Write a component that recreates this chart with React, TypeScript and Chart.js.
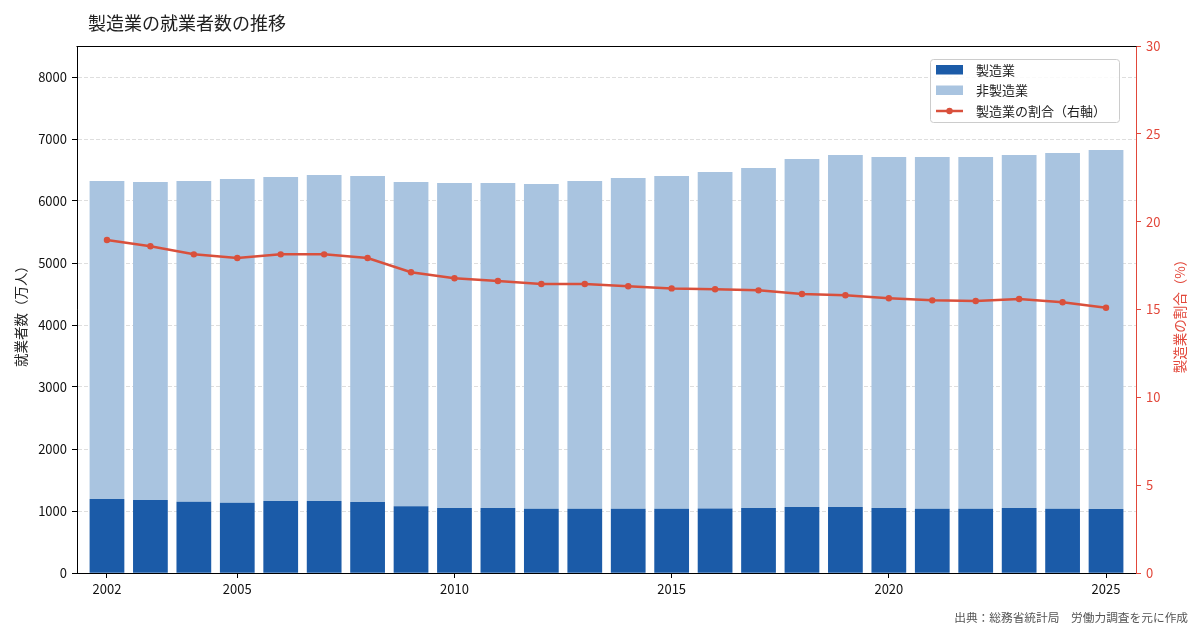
import React, { useEffect, useRef } from "react";
import { Chart, registerables } from "chart.js";

Chart.register(...registerables);

const years = [2002, 2003, 2004, 2005, 2006, 2007, 2008, 2009, 2010, 2011, 2012, 2013, 2014, 2015, 2016, 2017, 2018, 2019, 2020, 2021, 2022, 2023, 2024, 2025];
const manufacturing = [1194, 1178, 1148, 1132, 1161, 1163, 1145, 1078, 1050, 1047, 1035, 1038, 1038, 1036, 1040, 1050, 1063, 1064, 1047, 1035, 1035, 1048, 1035, 1032];
const nonManufacturing = [5129, 5130, 5175, 5223, 5226, 5256, 5258, 5228, 5240, 5243, 5239, 5285, 5333, 5367, 5428, 5482, 5614, 5678, 5663, 5675, 5675, 5694, 5739, 5791];
const shareRatio = [18.96, 18.6, 18.14, 17.93, 18.14, 18.14, 17.93, 17.12, 16.78, 16.62, 16.45, 16.45, 16.32, 16.2, 16.15, 16.09, 15.88, 15.81, 15.64, 15.52, 15.48, 15.6, 15.41, 15.1];
const xTickYears = [2002, 2005, 2010, 2015, 2020, 2025];
const leftTicks = [0, 1000, 2000, 3000, 4000, 5000, 6000, 7000, 8000];
const rightTicks = [0, 5, 10, 15, 20, 25, 30];

const TITLE = "製造業の就業者数の推移";
const LEFT_TITLE = "就業者数（万人）";
const RIGHT_TITLE = "製造業の割合（%）";
const SOURCE = "出典：総務省統計局　労働力調査を元に作成";
const LABEL_MFG = "製造業";
const LABEL_NON = "非製造業";
const LABEL_RATIO = "製造業の割合（右軸）";

const FONT = "'Noto Sans CJK JP', 'Noto Sans', sans-serif";
const C_DARK = "#1b5ba8";
const C_LIGHT = "#a9c4e0";
const C_RED = "#d9503c";
const C_AXIS_RED = "#e2473a";

export default function App() {
  const ref = useRef<HTMLCanvasElement | null>(null);

  useEffect(() => {
    document.body.style.margin = "0";
    const canvas = ref.current;
    if (!canvas) return;

    const overlay = {
      id: "overlay",
      afterDraw(chart: any) {
        const ctx = chart.ctx as CanvasRenderingContext2D;
        const a = chart.chartArea;
        ctx.save();
        // top spine
        ctx.fillStyle = "#000";
        ctx.fillRect(a.left - 0.5, Math.round(a.top), a.right - a.left + 1, 1);

        // title
        ctx.fillStyle = "#222";
        ctx.font = `18px ${FONT}`;
        ctx.textAlign = "left";
        ctx.textBaseline = "middle";
        ctx.fillText(TITLE, 88, 23);

        // left axis title
        ctx.save();
        ctx.translate(21, 313);
        ctx.rotate(-Math.PI / 2);
        ctx.textAlign = "center";
        ctx.font = `13.5px ${FONT}`;
        ctx.fillStyle = "#222";
        ctx.fillText(LEFT_TITLE, 0, 0);
        ctx.restore();

        // right axis title
        ctx.save();
        ctx.translate(1180, 313);
        ctx.rotate(-Math.PI / 2);
        ctx.textAlign = "center";
        ctx.font = `13.5px ${FONT}`;
        ctx.fillStyle = C_AXIS_RED;
        ctx.fillText(RIGHT_TITLE, 0, 0);
        ctx.restore();

        // legend
        const lx = 930.5, ly = 59.5, lw = 189, lh = 63;
        ctx.beginPath();
        ctx.roundRect(lx, ly, lw, lh, 3);
        ctx.fillStyle = "rgba(255,255,255,0.85)";
        ctx.fill();
        ctx.strokeStyle = "#cccccc";
        ctx.lineWidth = 1;
        ctx.stroke();

        ctx.fillStyle = C_DARK;
        ctx.fillRect(936, 65, 27, 9.5);
        ctx.fillStyle = C_LIGHT;
        ctx.fillRect(936, 85.5, 27, 9.5);
        ctx.strokeStyle = C_RED;
        ctx.lineWidth = 2.5;
        ctx.beginPath();
        ctx.moveTo(936, 111);
        ctx.lineTo(963, 111);
        ctx.stroke();
        ctx.fillStyle = C_RED;
        ctx.beginPath();
        ctx.arc(949.5, 111, 3.2, 0, Math.PI * 2);
        ctx.fill();

        ctx.fillStyle = "#222";
        ctx.font = `13px ${FONT}`;
        ctx.textAlign = "left";
        ctx.textBaseline = "middle";
        ctx.fillText(LABEL_MFG, 976, 70);
        ctx.fillText(LABEL_NON, 976, 90.5);
        ctx.fillText(LABEL_RATIO, 976, 111);

        // source
        ctx.fillStyle = "#555";
        ctx.font = `11.7px ${FONT}`;
        ctx.textAlign = "right";
        ctx.fillText(SOURCE, 1188, 618);
        ctx.restore();
      },
    };

    const chart = new Chart(canvas, {
      type: "bar",
      data: {
        datasets: [
          {
            type: "line",
            label: LABEL_RATIO,
            data: years.map((y, i) => ({ x: y, y: shareRatio[i] })),
            yAxisID: "y1",
            borderColor: C_RED,
            backgroundColor: C_RED,
            borderWidth: 2.5,
            pointRadius: 3.2,
            pointBackgroundColor: C_RED,
            pointBorderWidth: 0,
            order: 0,
          } as any,
          {
            label: LABEL_MFG,
            data: years.map((y, i) => ({ x: y, y: manufacturing[i] })),
            backgroundColor: C_DARK,
            yAxisID: "y",
            stack: "s",
            order: 1,
            categoryPercentage: 0.8,
            barPercentage: 1,
          },
          {
            label: LABEL_NON,
            data: years.map((y, i) => ({ x: y, y: nonManufacturing[i] })),
            backgroundColor: C_LIGHT,
            yAxisID: "y",
            stack: "s",
            order: 1,
            categoryPercentage: 0.8,
            barPercentage: 1,
          },
        ],
      },
      options: {
        responsive: false,
        animation: false,
        devicePixelRatio: 1,
        layout: { padding: { top: 46, left: 0, right: 0, bottom: 0 } },
        plugins: {
          legend: { display: false },
          title: { display: false },
          tooltip: { enabled: false },
        },
        scales: {
          x: {
            type: "linear",
            min: 2001.31,
            max: 2025.69,
            offset: false,
            stacked: true,
            afterFit: (s: any) => { s.height = 57; },
            afterBuildTicks: (s: any) => { s.ticks = xTickYears.map((v) => ({ value: v })); },
            ticks: {
              callback: (v: any) => String(v),
              color: "#111",
              font: { family: FONT, size: 13 },
              padding: 3,
              maxRotation: 0,
              autoSkip: false,
            },
            grid: {
              offset: false,
              drawOnChartArea: false,
              drawTicks: true,
              tickLength: 5,
              tickColor: "#000",
            },
            border: { display: true, color: "#000", width: 1 },
          },
          y: {
            type: "linear",
            position: "left",
            min: 0,
            max: 8500,
            stacked: true,
            afterFit: (s: any) => { s.width = 77; },
            afterBuildTicks: (s: any) => { s.ticks = leftTicks.map((v) => ({ value: v })); },
            ticks: {
              callback: (v: any) => String(v),
              color: "#111",
              font: { family: FONT, size: 13 },
              padding: 5,
            },
            grid: {
              color: "#d0d0d0",
              lineWidth: 0.7,
              drawTicks: true,
              tickLength: 5,
              tickColor: "#000",
              tickWidth: 1,
              tickBorderDash: [],
            } as any,
            border: { display: true, color: "#000", width: 1, dash: [4, 2] } as any,
          },
          y1: {
            type: "linear",
            position: "right",
            min: 0,
            max: 30,
            stacked: false,
            afterFit: (s: any) => { s.width = 64; },
            afterBuildTicks: (s: any) => { s.ticks = rightTicks.map((v) => ({ value: v })); },
            ticks: {
              callback: (v: any) => String(v),
              color: C_AXIS_RED,
              font: { family: FONT, size: 13 },
              padding: 5,
            },
            grid: {
              drawOnChartArea: false,
              drawTicks: true,
              tickLength: 5,
              tickColor: C_AXIS_RED,
            },
            border: { display: true, color: C_AXIS_RED, width: 1 },
          },
        },
      },
      plugins: [overlay],
    } as any);

    return () => chart.destroy();
  }, []);

  return (
    <div style={{ position: "absolute", left: 0, top: 0, width: 1200, height: 630, background: "#fff" }}>
      <canvas ref={ref} width={1200} height={630} style={{ width: 1200, height: 630, display: "block" }} />
    </div>
  );
}
